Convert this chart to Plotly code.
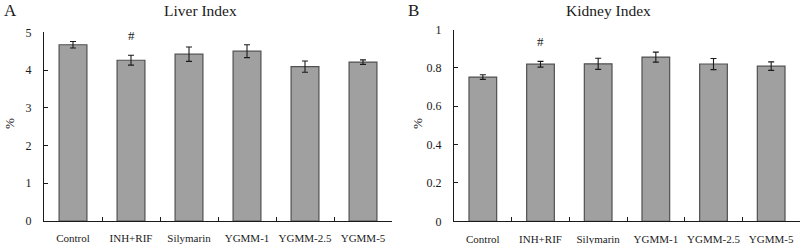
import plotly.graph_objects as go

categories = ["Control", "INH+RIF", "Silymarin", "YGMM-1", "YGMM-2.5", "YGMM-5"]
liver_values = [4.67, 4.26, 4.42, 4.50, 4.09, 4.21]
liver_errors = [0.085, 0.13, 0.19, 0.17, 0.15, 0.06]
kidney_values = [0.752, 0.819, 0.821, 0.856, 0.820, 0.809]
kidney_errors = [0.012, 0.015, 0.029, 0.026, 0.029, 0.022]
liver_ticks = [0, 1, 2, 3, 4, 5]
kidney_ticks = [0, 0.2, 0.4, 0.6, 0.8, 1]
kidney_ticklabels = ["0", "0.2", "0.4", "0.6", "0.8", "1"]

W, H = 803, 244
FONT = "Liberation Serif, Times New Roman, serif"
BAR = "#a0a0a0"
LINE = "#505050"
INK = "#1a1a1a"

def px_x(p):
    return p / W

def px_y(p):
    return 1 - p / H

fig = go.Figure()

for vals, errs, xa, ya in [(liver_values, liver_errors, "x", "y"),
                           (kidney_values, kidney_errors, "x2", "y2")]:
    fig.add_trace(go.Bar(
        x=categories, y=vals, xaxis=xa, yaxis=ya,
        marker=dict(color=BAR, line=dict(color=LINE, width=1.2)),
        error_y=dict(type="data", array=errs, visible=True,
                     color=INK, thickness=1.1, width=3),
        showlegend=False,
    ))

axis_common = dict(showline=True, linecolor=INK, linewidth=1.2,
                   showgrid=False, zeroline=False, mirror=False,
                   automargin=False)
xfont = dict(family=FONT, size=11, color=INK)
yfont = dict(family=FONT, size=12, color=INK)

fig.update_layout(
    width=W, height=H,
    margin=dict(l=0, r=0, t=0, b=0, autoexpand=False),
    paper_bgcolor="white", plot_bgcolor="white",
    bargap=0.52,
    font=dict(family=FONT, color=INK),
    xaxis=dict(domain=[px_x(44), px_x(392)], anchor="y", tickangle=0,
               ticks="inside", tickson="boundaries", ticklen=4,
               tickcolor=INK, ticklabelstandoff=7, tickfont=xfont, **axis_common),
    yaxis=dict(domain=[px_y(221), px_y(32.3)], anchor="x", range=[0, 5],
               tickvals=liver_ticks, ticks="inside", ticklen=4, tickcolor=INK,
               ticklabelstandoff=9, tickfont=yfont, **axis_common),
    xaxis2=dict(domain=[px_x(454), px_x(800)], anchor="y2", tickangle=0,
                ticks="inside", tickson="boundaries", ticklen=4,
                tickcolor=INK, ticklabelstandoff=7, tickfont=xfont, **axis_common),
    yaxis2=dict(domain=[px_y(221.3), px_y(29.5)], anchor="x2", range=[0, 1],
                tickvals=kidney_ticks, ticktext=kidney_ticklabels,
                ticks="inside", ticklen=4, tickcolor=INK,
                ticklabelstandoff=9, tickfont=yfont, **axis_common),
)

ann = [
    dict(text="A", x=px_x(2), y=px_y(11), xanchor="left", yanchor="middle", size=17),
    dict(text="B", x=px_x(406), y=px_y(11), xanchor="left", yanchor="middle", size=17),
    dict(text="Liver Index", x=px_x(200), y=px_y(11), xanchor="center", yanchor="middle", size=15.5),
    dict(text="Kidney Index", x=px_x(608), y=px_y(11), xanchor="center", yanchor="middle", size=15.5),
]
for a in ann:
    fig.add_annotation(text=a["text"], x=a["x"], y=a["y"], xref="paper", yref="paper",
                       xanchor=a["xanchor"], yanchor=a["yanchor"], showarrow=False,
                       font=dict(family=FONT, size=a["size"], color=INK))

for xp in [9, 417]:
    fig.add_annotation(text="%", x=px_x(xp), y=px_y(124), xref="paper", yref="paper",
                       xanchor="center", yanchor="middle",
                       textangle=-90, showarrow=False,
                       font=dict(family=FONT, size=13, color=INK))

# significance marks above INH+RIF error bars
i = categories.index("INH+RIF")
fig.add_annotation(text="#", x=categories[i], y=liver_values[i] + liver_errors[i],
                   xref="x", yref="y", yanchor="bottom", yshift=10, showarrow=False,
                   font=dict(family=FONT, size=13, color=INK))
fig.add_annotation(text="#", x=categories[i], y=kidney_values[i] + kidney_errors[i],
                   xref="x2", yref="y2", yanchor="bottom", yshift=10, showarrow=False,
                   font=dict(family=FONT, size=13, color=INK))

fig.write_html("out.html",
               config={"displayModeBar": False},
               post_script="document.body.style.margin='0';document.body.style.overflow='hidden';")
